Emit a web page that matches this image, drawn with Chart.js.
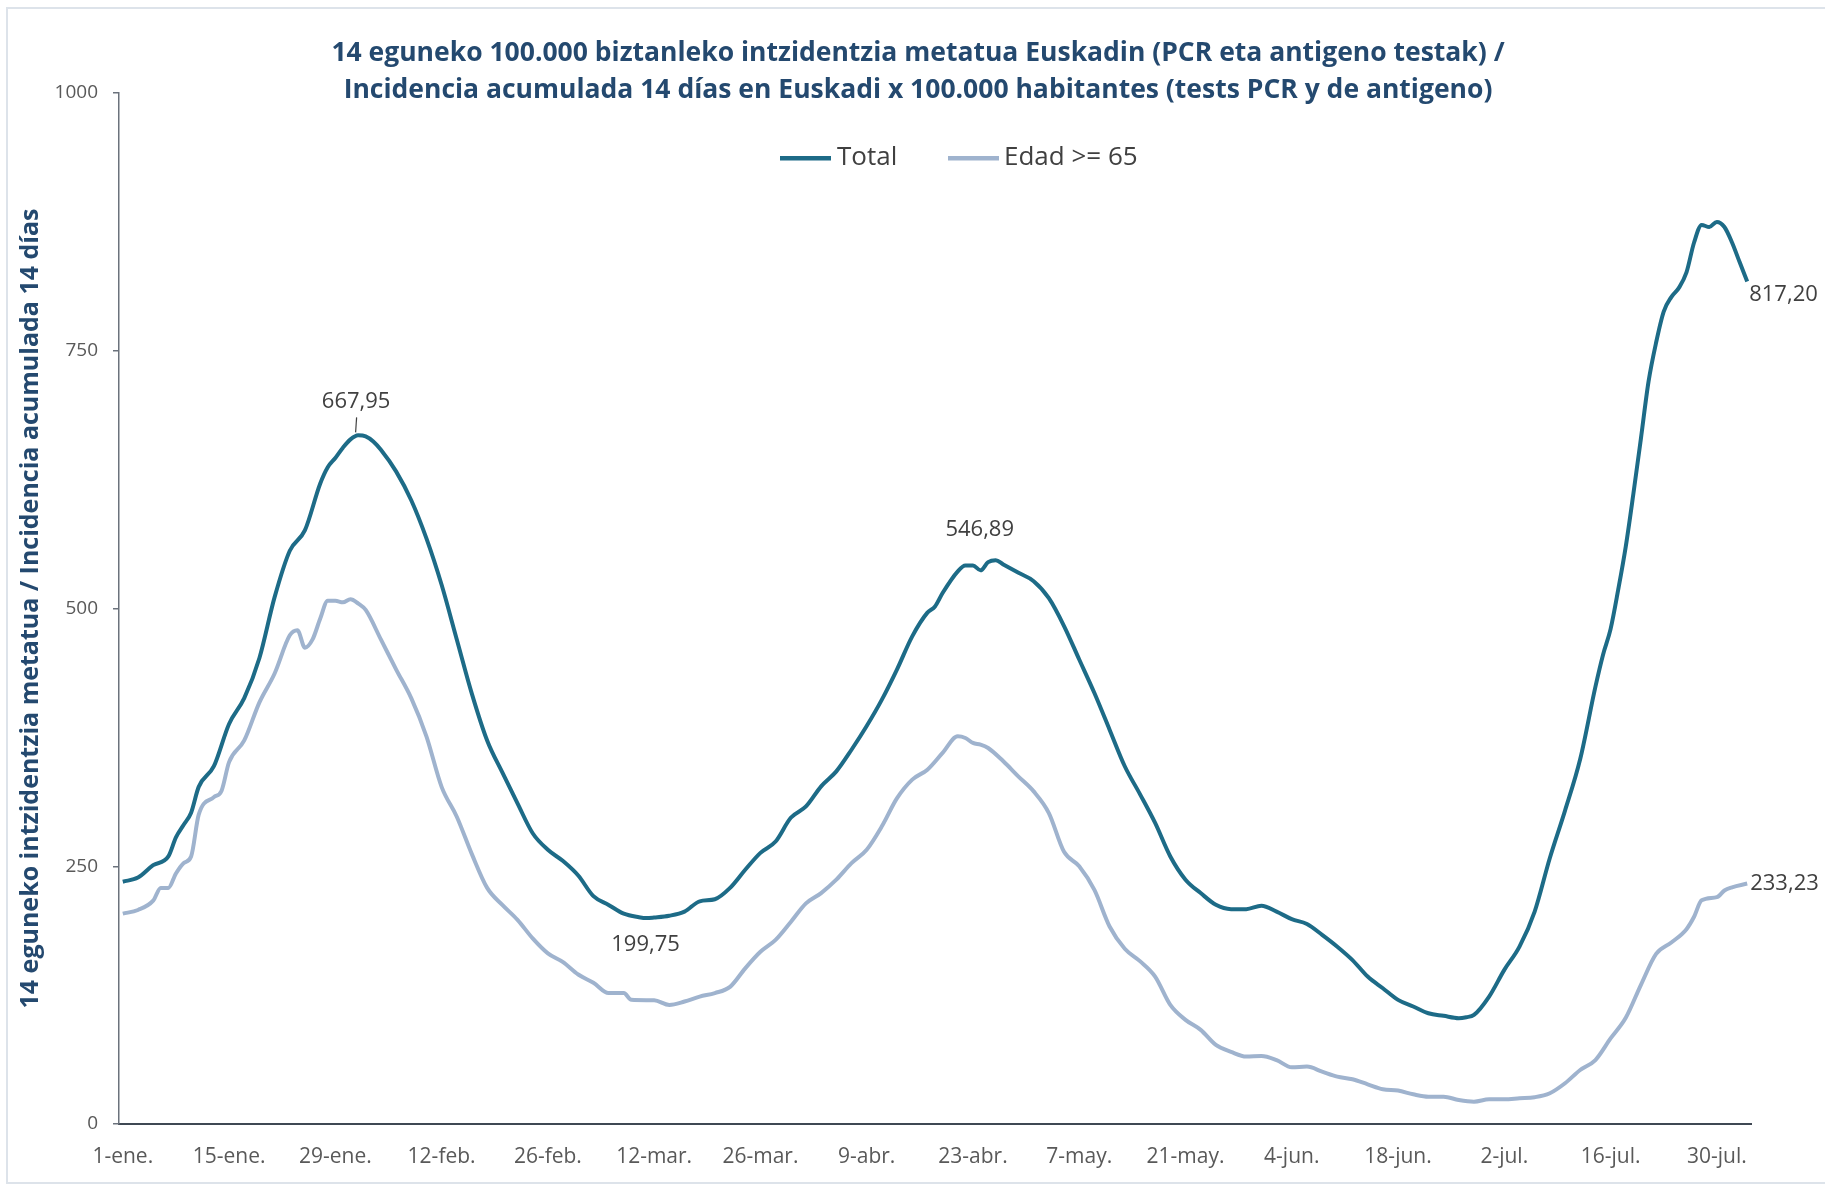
<!DOCTYPE html>
<html>
<head>
<meta charset="utf-8">
<script src="https://cdn.jsdelivr.net/npm/chart.js@4.4.1/dist/chart.umd.min.js"></script>
<style>
html,body{margin:0;padding:0;background:#ffffff;}
#wrap{position:relative;width:1825px;height:1193px;overflow:hidden;}
#c{position:absolute;left:0;top:0;}
#frame{position:absolute;left:6px;top:7px;width:1840px;height:1177px;border:2px solid #dde3ea;box-sizing:border-box;pointer-events:none;}
</style>
</head>
<body>
<div id="wrap"><canvas id="c" width="1825" height="1193"></canvas><div id="frame"></div></div>
<script>
// ---- Data (day index counted from 1-ene.) ----
const tickLabels = ['1-ene.','15-ene.','29-ene.','12-feb.','26-feb.','12-mar.','26-mar.','9-abr.','23-abr.','7-may.','21-may.','4-jun.','18-jun.','2-jul.','16-jul.','30-jul.'];
const yTicks = [0, 250, 500, 750, 1000];

const totalDays = [0,2,4,6,7,8,9,10,12,14,16,18,20,22,24,26,27,28,29,30,31,32,33,34,36,38,40,42,44,46,48,50,52,54,56,58,60,62,64,66,68,69,70,72,74,76,78,80,82,84,86,88,90,92,94,96,98,100,102,104,106,107,108,110,111,112,113,114,115,116,118,120,122,124,126,128,130,132,134,136,138,140,142,144,146,148,150,152,154,156,158,160,162,164,166,168,170,172,174,176,177,178,180,182,184,186,188,190,192,194,195,196,197,198,199,200,201,202,203,204,205,206,207,208,209,210,211,212,213,214];
const totalValues = [235,239,251,259.5,278,290,302,327,347,388,413,452,511,556,576,621,637,646,656,664,667.95,667,662,654,633,605,568,523,470,417,372,341,311,282,266,255,241,221,212.5,204,200.6,199.75,200.3,202,206,216,218,229,246.6,263,274,297,308,327.5,342,363,386,411.6,441,473,496,502,515,536,541.7,541.7,537,545,546.89,542.7,534.6,526.5,510,483,450.5,418,382.5,347,320,292,259.5,237,224,212.6,208.4,208.4,211.7,206,198.7,194,183.5,172,159,143,131.7,120.4,114,107.4,104.9,102.6,103.6,105.8,123.6,149.5,172,206,258,304,354,424,455,480,518,560,611,665,720,758,788,802,811,826,855,872,870,875,870,855,836,817.2];

const edadDays = [0,2,4,5,6,7,8,9,10,12,13,14,16,18,20,22,23,24,25,26,27,28,29,30,31,32,34,36,38,40,42,44,46,48,50,52,54,56,58,60,62,64,66,67,70,72,74,76,78,80,82,84,86,88,90,92,94,96,98,100,102,104,106,108,110,111,112,113,114,116,118,120,122,124,126,128,130,132,134,136,138,140,142,144,146,148,150,152,154,156,158,160,162,164,166,168,170,172,174,176,178,180,182,184,186,188,190,192,194,196,198,200,202,204,206,207,208,210,211,212,214];
const edadValues = [204,207.6,216.6,229,229,243,253,259.5,300,317,323,351,372,409,437,474,479,462,470,490,507.5,507.5,506,509,505,498.6,470,441,413,376,327,298,261.5,229,212.5,198,180,165.5,157,145,137,127,127,120.5,120,115.5,118.8,123.6,127,133,151,167,178.6,196,214,224,237,253,266,288.7,316,334,343.7,360,376,374.4,369.6,368,364.7,351.8,337,322.6,301.6,264,250,227,191.6,170,158,143,115.5,101,91.3,76.7,70,65.4,66,62,55,55.7,50.8,46,43.4,38.5,33.7,32.4,28.8,26.5,26.5,23.3,21.7,24,24,25,26,29.8,39.5,52.4,62,83,103,135,165,176,189,201,217,220,226.5,229.6,233.23];

const seriesNames = ['Total', 'Edad >= 65'];
const titleLines = [
  '14 eguneko 100.000 biztanleko intzidentzia metatua Euskadin (PCR eta antigeno testak) /',
  'Incidencia acumulada 14 días en Euskadi x 100.000 habitantes (tests PCR y de antigeno)'
];
const yAxisTitle = '14 eguneko intzidentzia metatua / Incidencia acumulada 14 días';

// labelled points: series index, day, text
const labelledPoints = [
  {s:0, day:31,  text:'667,95', dx:-2,  dy:-34, align:'center', leader:true},
  {s:0, day:69,  text:'199,75', dx:-1,  dy:27,  align:'center'},
  {s:0, day:115, text:'546,89', dx:-16, dy:-30, align:'center'},
  {s:0, day:214, text:'817,20', dx:2,   dy:13,  align:'left'},
  {s:1, day:214, text:'233,23', dx:3,   dy:0,   align:'left'}
];

const COL_TOTAL = '#1d6b87';
const COL_EDAD = '#9fb3ce';
const FONT = '"Open Sans", "DejaVu Sans", sans-serif';

const overlay = {
  id: 'overlay',
  afterDraw(chart) {
    const ctx = chart.ctx;
    const xs = chart.scales.x, ys = chart.scales.y;
    ctx.save();
    // title
    ctx.fillStyle = '#24496f';
    ctx.font = 'bold 26.5px ' + FONT;
    ctx.textAlign = 'center';
    ctx.textBaseline = 'middle';
    ctx.fillText(titleLines[0], 918, 53);
    ctx.fillText(titleLines[1], 918, 90);
    // legend
    ctx.font = '26px ' + FONT;
    ctx.textAlign = 'left';
    ctx.fillStyle = COL_TOTAL;
    ctx.fillRect(780, 156, 51, 4.5);
    ctx.fillStyle = '#404040';
    ctx.fillText(seriesNames[0], 837, 158);
    ctx.fillStyle = COL_EDAD;
    ctx.fillRect(948, 156, 51, 4.5);
    ctx.fillStyle = '#404040';
    ctx.fillText(seriesNames[1], 1004, 158);
    // data labels
    ctx.font = '22px ' + FONT;
    ctx.fillStyle = '#404040';
    const sets = [[totalDays, totalValues], [edadDays, edadValues]];
    labelledPoints.forEach(p => {
      const [days, vals] = sets[p.s];
      const i = days.indexOf(p.day);
      const px = xs.getPixelForValue(days[i]);
      const py = ys.getPixelForValue(vals[i]);
      ctx.textAlign = p.align;
      ctx.fillText(p.text, px + p.dx, py + p.dy);
      if (p.leader) {
        ctx.strokeStyle = '#404040';
        ctx.lineWidth = 1.2;
        ctx.beginPath();
        ctx.moveTo(px - 1.5, py + p.dy + 16);
        ctx.lineTo(px - 2.5, py - 3);
        ctx.stroke();
      }
    });
    ctx.restore();
  }
};

new Chart(document.getElementById('c'), {
  type: 'line',
  data: {
    datasets: [
      {
        label: seriesNames[1],
        data: edadDays.map((d, i) => ({x: d, y: edadValues[i]})),
        borderColor: COL_EDAD,
        borderWidth: 4,
        pointRadius: 0,
        cubicInterpolationMode: 'monotone',
        fill: false
      },
      {
        label: seriesNames[0],
        data: totalDays.map((d, i) => ({x: d, y: totalValues[i]})),
        borderColor: COL_TOTAL,
        borderWidth: 4,
        pointRadius: 0,
        cubicInterpolationMode: 'monotone',
        fill: false
      }
    ]
  },
  options: {
    responsive: false,
    animation: false,
    devicePixelRatio: 1,
    layout: {padding: {left: 12, right: 74, top: 93, bottom: 0}},
    plugins: {legend: {display: false}, title: {display: false}, tooltip: {enabled: false}},
    scales: {
      x: {
        type: 'linear',
        min: -0.5,
        max: 214.5,
        afterBuildTicks: s => { s.ticks = tickLabels.map((_, i) => ({value: i * 14})); },
        afterFit: s => { s.height = 69; },
        ticks: {
          callback: v => tickLabels[Math.round(v / 14)],
          font: {family: FONT, size: 21},
          color: '#595959',
          padding: 20,
          maxRotation: 0,
          autoSkip: false
        },
        grid: {display: false, drawTicks: false},
        border: {display: true, color: '#3f4853', width: 2}
      },
      y: {
        min: 0,
        max: 1000,
        afterBuildTicks: s => { s.ticks = yTicks.map(v => ({value: v})); },
        afterFit: s => { s.width = 107; },
        ticks: {
          callback: v => String(v),
          font: {family: FONT, size: 19},
          color: '#595959',
          padding: 15
        },
        grid: {display: true, drawOnChartArea: false, drawTicks: true, tickLength: 6, color: '#6b727c', lineWidth: 1.5},
        border: {display: true, color: '#6b727c', width: 1.5},
        title: {
          display: true,
          text: yAxisTitle,
          font: {family: FONT, size: 25, weight: 'bold'},
          color: '#24496f',
          padding: {top: 4, bottom: 4}
        }
      }
    }
  },
  plugins: [overlay]
});
</script>
</body>
</html>
